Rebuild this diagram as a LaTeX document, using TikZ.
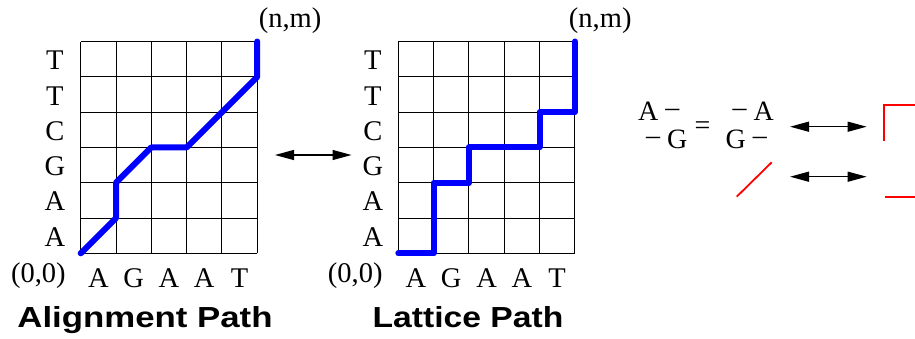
\documentclass[tikz,border=0pt]{standalone}
\usepackage{fontspec}
\usepackage{graphicx}
\setmainfont{Liberation Serif}
\newfontfamily\titlefont{Liberation Sans}
\usetikzlibrary{arrows.meta}
\definecolor{pathblue}{RGB}{0,0,255}
\definecolor{pathred}{RGB}{255,0,0}
\tikzset{
  gridline/.style={line width=1pt, black},
  bluepath/.style={line width=6pt, pathblue, line cap=round, line join=round},
  redline/.style={line width=1.8pt, pathred},
  seqlabel/.style={inner sep=0pt, anchor=base, font=\fontsize{28.5}{32}\selectfont},
  eqtext/.style={inner sep=0pt, font=\fontsize{28}{32}\selectfont},
  titletext/.style={inner sep=0pt, anchor=base, font=\titlefont\bfseries\fontsize{29}{33}\selectfont},
  dblarrow/.style={line width=1.2pt, black, {Triangle[length=19pt,width=10pt]}-{Triangle[length=19pt,width=10pt]}},
}
\newcommand{\rdash}{\raisebox{3.5pt}{–}}
\newcommand{\latticegrid}{%
  \foreach \c in {0,...,5} \draw[gridline] (\c,0) -- (\c,6);
  \foreach \r in {0,...,6} \draw[gridline] (0,\r) -- (5,\r);
}
\begin{document}
\begin{tikzpicture}[x=1pt,y=-1pt]
\useasboundingbox (0,0) rectangle (915,338);

% ---------- Alignment grid ----------
\begin{scope}[shift={(80.7pt,-253.3pt)}, x=35.3pt, y=35.3pt]
  \latticegrid
  \foreach \l [count=\i from 0] in {A,A,G,C,T,T}
    \node[seqlabel] (al\i) at (-0.73,\i+0.2) {\l};
  \foreach \l [count=\j from 0] in {A,G,A,A,T}
    \node[seqlabel] (at\j) at (\j+0.5,-0.98) {\l};
  \node[seqlabel] (a00) at (-1.2,-0.84) {(0,0)};
  \node[seqlabel] (anm) at (5.93,6.41) {(n,m)};
  \draw[bluepath] (0,0) -- (1,1) -- (1,2) -- (2,3) -- (3,3) -- (5,5) -- (5,6);
\end{scope}

% ---------- Lattice grid ----------
\begin{scope}[shift={(398.3pt,-253.3pt)}, x=35.3pt, y=35.3pt]
  \latticegrid
  \foreach \l [count=\i from 0] in {A,A,G,C,T,T}
    \node[seqlabel] (bl\i) at (-0.72,\i+0.2) {\l};
  \foreach \l [count=\j from 0] in {A,G,A,A,T}
    \node[seqlabel] (bt\j) at (\j+0.5,-0.98) {\l};
  \node[seqlabel] (b00) at (-1.22,-0.84) {(0,0)};
  \node[seqlabel] (bnm) at (5.72,6.41) {(n,m)};
  \draw[bluepath] (0,0) -- (1,0) -- (1,2) -- (2,2) -- (2,3) -- (4,3) -- (4,4) -- (5,4) -- (5,6);
\end{scope}

% ---------- middle arrow ----------
\coordinate (m1) at (275,155);
\coordinate (m2) at (351.5,155);
\draw[dblarrow] (m1) -- (m2);

% ---------- titles ----------
\node[titletext] (t1) at (145,327.3) {\scalebox{1.2}[1]{Alignment Path}};
\node[titletext] (t2) at (468,327.3) {\scalebox{1.16}[1]{Lattice Path}};

% ---------- equation ----------
\node[eqtext, anchor=base west] (e1) at (638,120) {A \rdash};
\node[eqtext, anchor=base east] (e2) at (774,120) {\rdash\ A};
\node[eqtext, anchor=base west] (e3) at (646,148.3) {\rdash\ G};
\node[eqtext, anchor=base east] (e4) at (767,148.3) {G \rdash};
\node[eqtext, anchor=base] (eq) at (702.5,134.3) {=};

% ---------- right arrows ----------
\coordinate (r1a) at (790,126.7);
\coordinate (r1b) at (866.7,126.7);
\coordinate (r2a) at (790,176.7);
\coordinate (r2b) at (866.7,176.7);
\draw[dblarrow] (r1a) -- (r1b);
\draw[dblarrow] (r2a) -- (r2b);

% ---------- red shapes ----------
\draw[redline] (736.7,196.7) -- (771.7,162.3);
\draw[redline] (884.3,140.7) -- (884.3,105) -- (917,105);
\draw[redline] (885,197.3) -- (917,197.3);
\end{tikzpicture}
\end{document}
